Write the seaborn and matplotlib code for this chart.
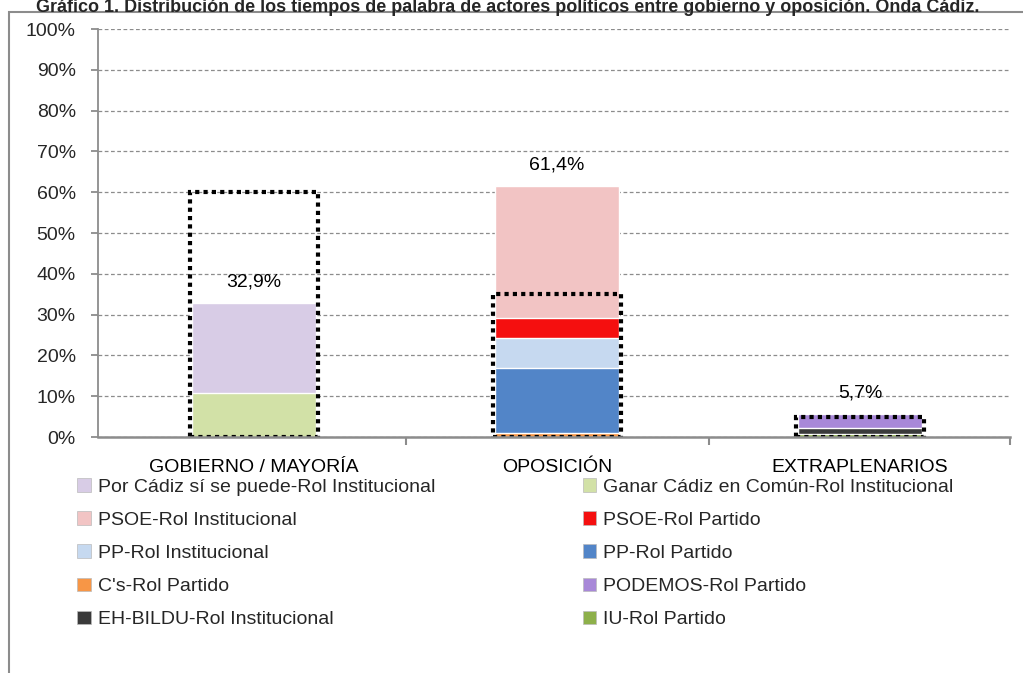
import pandas as pd
import matplotlib.pyplot as plt
import seaborn as sns
from matplotlib.patches import Rectangle, Patch

# Style
sns.set_theme(style="white")
plt.rcParams['font.family'] = ['Liberation Sans', 'DejaVu Sans']

title = ("Gráfico 1. Distribución de los tiempos de palabra de actores políticos "
         "entre gobierno y oposición. Onda Cádiz.")

categories = ["GOBIERNO / MAYORÍA", "OPOSICIÓN", "EXTRAPLENARIOS"]

# Series in stacking order (bottom -> top), % per category
series = [
    "Ganar Cádiz en Común-Rol Institucional",
    "Por Cádiz sí se puede-Rol Institucional",
    "C's-Rol Partido",
    "PP-Rol Partido",
    "PP-Rol Institucional",
    "PSOE-Rol Partido",
    "PSOE-Rol Institucional",
    "IU-Rol Partido",
    "EH-BILDU-Rol Institucional",
    "PODEMOS-Rol Partido",
]
ganar = [10.8, 0, 0]
por_cadiz = [22.1, 0, 0]
cs_partido = [0, 1.0, 0]
pp_partido = [0, 16.0, 0]
pp_inst = [0, 7.3, 0]
psoe_partido = [0, 4.9, 0]
psoe_inst = [0, 32.2, 0]
iu_partido = [0, 0, 0.7]
bildu_inst = [0, 0, 1.5]
podemos_partido = [0, 0, 3.5]

colors = ["#D2E1A7", "#D8CCE6", "#F79646", "#5285C8", "#C6D9F0",
          "#F50F0F", "#F2C4C4", "#8DB04A", "#3A3A3A", "#A888D8"]

# dotted highlight boxes
highlight = [60, 35, 5]

# legend order as in the original (row by row, 2 columns)
legend_rows = [
    ("Por Cádiz sí se puede-Rol Institucional", "Ganar Cádiz en Común-Rol Institucional"),
    ("PSOE-Rol Institucional", "PSOE-Rol Partido"),
    ("PP-Rol Institucional", "PP-Rol Partido"),
    ("C's-Rol Partido", "PODEMOS-Rol Partido"),
    ("EH-BILDU-Rol Institucional", "IU-Rol Partido"),
]

values = [ganar, por_cadiz, cs_partido, pp_partido, pp_inst,
          psoe_partido, psoe_inst, iu_partido, bildu_inst, podemos_partido]
df = pd.DataFrame(dict(zip(series, values)), index=categories)
tops = df.cumsum(axis=1)
color_map = dict(zip(series, colors))

fig = plt.figure(figsize=(10.23, 6.73), dpi=100)
ax = fig.add_axes([98 / 1023, 1 - 437 / 673, 912 / 1023, 408 / 673])

# stacked bars: draw cumulative tops, highest segment first
for s in reversed(series):
    mask = df[s] > 0
    sub = pd.DataFrame({"cat": df.index[mask], "top": tops[s][mask]})
    sns.barplot(data=sub, x="cat", y="top", order=categories, color=color_map[s],
                saturation=1, width=0.41, errorbar=None, ax=ax)

# dotted boxes
sns.barplot(x=categories, y=highlight, order=categories, fill=False, color="black",
            width=0.42, errorbar=None, ax=ax, linewidth=3, linestyle=(0, (1, 1)))

if ax.get_legend() is not None:
    ax.get_legend().remove()

# total labels
totals = df.sum(axis=1)
for i, t in enumerate(totals):
    ax.text(i, t + 5.2, f"{t:.1f}%".replace(".", ","), ha="center", va="center",
            fontsize=14, color="black")

ax.set_ylim(0, 100)
ax.set_xlim(-0.515, 2.495)
ax.set_yticks(range(0, 101, 10))
ax.set_yticklabels([f"{v}%" for v in range(0, 101, 10)], fontsize=14)
ax.set_xticks(range(len(categories)))
ax.set_xticklabels(categories, fontsize=14)
ax.set_xticks([0.5, 1.5, 2.495], minor=True)
ax.set_xlabel("")
ax.set_ylabel("")

ax.tick_params(axis="x", which="major", length=0, pad=16, colors="black")
ax.tick_params(axis="x", which="minor", length=6, width=1.5, color="#8c8c8c", direction="out", bottom=True)
ax.tick_params(axis="y", length=5, width=1.3, color="#8c8c8c", direction="out", left=True, pad=11)

ax.yaxis.grid(True, linestyle=(0, (3, 2)), color="#8c8c8c", lw=0.9)
ax.xaxis.grid(False)
ax.set_axisbelow(True)
for side in ["top", "right"]:
    ax.spines[side].set_visible(False)
for side in ["left", "bottom"]:
    ax.spines[side].set_color("#8c8c8c")
ax.spines["left"].set_linewidth(1.3)
ax.spines["bottom"].set_linewidth(1.8)

# legend
order = [r[0] for r in legend_rows] + [r[1] for r in legend_rows]
handles = [Patch(facecolor=color_map[s], edgecolor="#bbbbbb", lw=0.5) for s in order]
fig.legend(handles, order, loc="upper left", bbox_to_anchor=(77 / 1023, 1 - 478 / 673),
           ncol=2, frameon=False, fontsize=14, borderpad=0, borderaxespad=0,
           handlelength=0.7, handleheight=0.7, handletextpad=0.36,
           labelspacing=0.8, columnspacing=7.6)

# outer frame and title
fig.add_artist(Rectangle((9 / 1023, -0.5), 2, 0.5 + 1 - 12 / 673, transform=fig.transFigure,
                         fill=False, edgecolor="#8c8c8c", lw=1.5))
fig.text(0.496, 1 - 12 / 673, title, ha="center", va="baseline", fontsize=13,
         fontweight="bold")

fig.savefig("out.png", dpi=100)
